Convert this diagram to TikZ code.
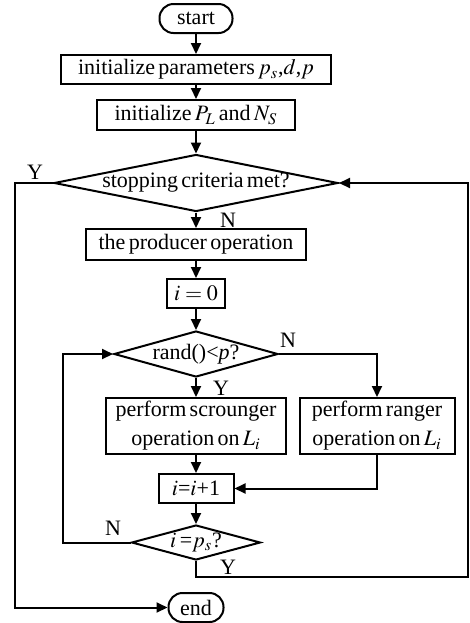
\documentclass[tikz,border=0pt]{standalone}
\usepackage{mathptmx}
\usepackage{fontspec}
\setmainfont{Liberation Serif}[WordSpace=0.6]
\usetikzlibrary{shapes.geometric,arrows.meta}

\tikzset{every picture/.style={line width=1pt}}
\tikzset{
  proc/.style={draw, rectangle, inner sep=0pt, align=center},
  term/.style={draw, rectangle, rounded corners=7pt, inner sep=0pt, minimum height=14.5pt},
  cond/.style={draw, diamond, inner xsep=-8pt, inner ysep=-2pt},
  lbl/.style={inner sep=0pt},
  arr/.style={-{Triangle[length=5.5pt,width=5pt]}}
}

\begin{document}
\begin{tikzpicture}[x=0.5pt,y=0.5pt,yscale=-1,font=\fontsize{11}{14.5}\selectfont]
\useasboundingbox (0,0) rectangle (470,623);

% Blocks
\node[term, minimum width=36.5pt] (start) at (196,18.5) {start};
\node[proc, minimum width=135pt, minimum height=14.5pt] (initA) at (196,69.5) {initialize parameters $p_s$,$d$,$p$};
\node[proc, minimum width=99pt, minimum height=15pt] (initB) at (196,115) {initialize $P_L$ and $N_S$};
\node[cond, minimum width=142pt, minimum height=28.5pt, aspect=5] (stop) at (196,183) {stopping criteria met?};
\node[proc, minimum width=110pt, minimum height=15.5pt] (prod) at (196,244.5) {the producer operation};
\node[proc, minimum width=29pt, minimum height=14.5pt] (init0) at (196,293.5) {$i=0$};
\node[cond, minimum width=82pt, minimum height=23pt, aspect=3.6] (rand) at (196,354) {rand()<\textit{p}?};
\node[proc, minimum width=90pt, minimum height=28pt] (scr) at (196,426) {perform scrounger\\operation on $L_i$};
\node[proc, minimum width=77.5pt, minimum height=28pt] (rng) at (377,426) {perform ranger\\operation on $L_i$};
\node[proc, minimum width=37.5pt, minimum height=14.5pt] (inc) at (196,488.5) {$i$=$i$+1};
\node[cond, minimum width=64.5pt, minimum height=17.5pt, aspect=3.7] (check) at (196,542.5) {$i$\,=$p_s$?};
\node[term, minimum width=27.5pt] (end) at (196,607.5) {end};

% Corners
\coordinate (rgt) at (468,577);
\coordinate (lftA) at (15,183);
\coordinate (lftB) at (63,542.5);

% Arrows
\draw[arr] (start) -- (initA);
\draw[arr] (initA) -- (initB);
\draw[arr] (initB) -- (stop);
\draw[arr] (stop) -- (prod);
\draw[arr] (prod) -- (init0);
\draw[arr] (init0) -- (rand);
\draw[arr] (rand) -- (scr);
\draw[arr] (rand.east) -| (rng.north);
\draw[arr] (scr) -- (inc);
\draw[arr] (rng.south) |- (inc.east);
\draw[arr] (inc) -- (check);
\draw[arr] (check.west) -- (lftB) |- (rand.west);
\draw[arr] (check.south) |- (rgt) |- (stop.east);
\draw[arr] (stop.west) -- (lftA) |- (end.west);

% Labels
\node[lbl] (yStop) at (35,172) {Y};
\node[lbl] (nStop) at (228,220) {N};
\node[lbl] (nRand) at (288,340) {N};
\node[lbl] (yRand) at (221,388) {Y};
\node[lbl] (nCheck) at (113,528) {N};
\node[lbl] (yCheck) at (228,567) {Y};

\end{tikzpicture}
\end{document}
